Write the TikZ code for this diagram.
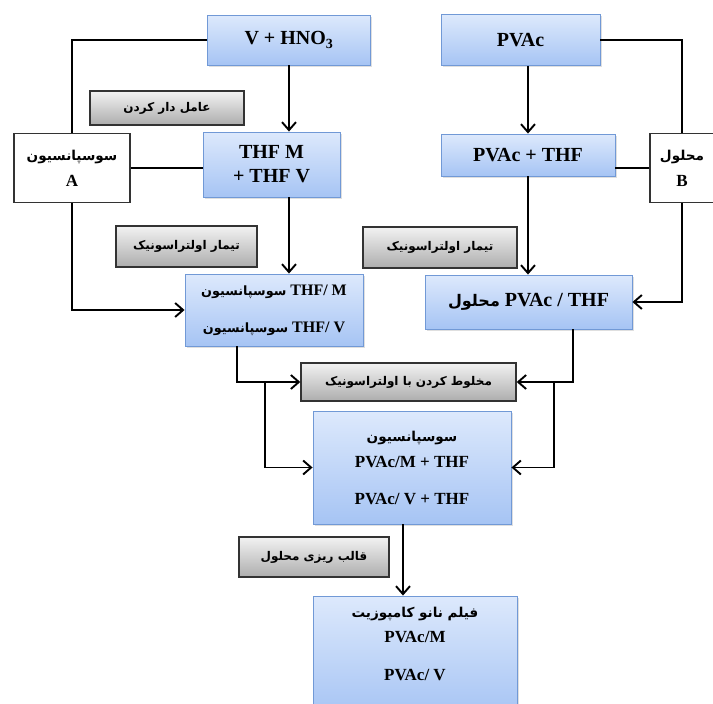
\documentclass[tikz,border=0pt]{standalone}
\usepackage{fontspec}
\setmainfont{Liberation Serif}
\newfontfamily\farsi[Script=Arabic,Scale=0.8]{DejaVu Sans}
\TeXXeTstate=1
\newcommand{\fatxt}[1]{{\farsi\bfseries\beginR #1\endR}}
\usetikzlibrary{arrows.meta,shadows}
\definecolor{bluetop}{HTML}{DDE9FC}
\definecolor{bluebot}{HTML}{A6C4F4}
\definecolor{blueline}{HTML}{7199D6}
\definecolor{graytop}{HTML}{F2F2F2}
\definecolor{graybot}{HTML}{ADADAD}

\begin{document}
\begin{tikzpicture}[x=1pt,y=-1pt,line width=1.9pt,
        >={Straight Barb[length=8pt,width=14pt]},
        blue box/.style={draw=blueline,line width=0.9pt,top color=bluetop,bottom color=bluebot,
            drop shadow={opacity=0.25,shadow xshift=1.5pt,shadow yshift=-1.5pt},
            align=center,inner sep=0pt,font=\fontsize{20}{24}\selectfont\bfseries},
        gray box/.style={draw=black!80,line width=1.4pt,top color=graytop,bottom color=graybot,
            inner sep=0pt,font=\fontsize{15}{17}\selectfont},
        white box/.style={draw=black!80,line width=1.1pt,fill=white,align=center,
            inner sep=0pt,font=\fontsize{17}{26}\selectfont\bfseries}]

    \useasboundingbox (0,0) rectangle (713,704);

    % top row
    \node[blue box, minimum width=163pt, minimum height=50pt] (vhno) at (289,40) {V + HNO\textsubscript{3}};
    \node[blue box, minimum width=159pt, minimum height=51pt] (pvac) at (520.5,40) {PVAc};

    % second row
    \node[white box, minimum width=116pt, minimum height=69pt] (susA) at (72,168) {\fatxt{سوسپانسیون}\\A};
    \node[blue box, minimum width=137pt, minimum height=65pt] (thfmv) at (271.5,164.5) {THF M\\+ THF V};
    \node[blue box, minimum width=174pt, minimum height=42pt] (pvacthf) at (528,155) {PVAc + THF};
    \node[white box, minimum width=64pt, minimum height=69pt] (solB) at (682,168) {\fatxt{محلول}\\B};

    % process steps
    \node[gray box, minimum width=154pt, minimum height=34pt] (func) at (167,108) {\fatxt{عامل دار کردن}};
    \node[gray box, minimum width=141pt, minimum height=41pt] (ultraA) at (186.5,246.5) {\fatxt{تیمار اولتراسونیک}};
    \node[gray box, minimum width=154pt, minimum height=41pt] (ultraB) at (440,247.5) {\fatxt{تیمار اولتراسونیک}};

    % third row
    \node[blue box, minimum width=178pt, minimum height=72pt, font=\fontsize{16}{19}\selectfont\bfseries] (suspM) at (274,310)
        {\fatxt{سوسپانسیون} THF/ M\\[18pt]\fatxt{سوسپانسیون} THF/ V};
    \node[blue box, minimum width=207pt, minimum height=54pt] (solPT) at (528.5,302) {\fatxt{محلول} PVAc / THF};

    \node[gray box, minimum width=215pt, minimum height=38pt] (mix) at (408.5,382) {\fatxt{مخلوط کردن با اولتراسونیک}};

    \node[blue box, minimum width=198pt, minimum height=113pt, font=\fontsize{17}{26}\selectfont\bfseries] (suspC) at (412,467.5)
        {\fatxt{سوسپانسیون}\\PVAc/M + THF\\[11pt]PVAc/ V + THF};

    \node[gray box, minimum width=150pt, minimum height=40pt] (cast) at (314,557) {\fatxt{قالب ریزی محلول}};

    \node[blue box, minimum width=204pt, minimum height=120pt, font=\fontsize{17}{25}\selectfont\bfseries] (film) at (415,656)
        {\fatxt{فیلم نانو کامپوزیت}\\PVAc/M\\[13pt]PVAc/ V\\\mbox{}};

    % connectors
    \draw (vhno.west) -| (susA.north);
    \draw[->] (susA.south) |- (suspM.west);
    \draw (susA.east) -- (susA.east -| thfmv.west);
    \draw (pvac.east) -| (solB.north);
    \draw[->] (solB.south) |- (solPT.east);
    \draw (solB.west) -- (solB.west -| pvacthf.east);

    \path[->]
    (vhno.south) edge (vhno.south |- thfmv.north)
    (vhno.south |- thfmv.south) edge (vhno.south |- suspM.north)
    (pvacthf.north |- pvac.south) edge (pvacthf.north)
    (pvacthf.south) edge (pvacthf.south |- solPT.north)
    ([xshift=-9pt]suspC.south) edge ([xshift=-9pt]suspC.south |- film.north);

    \draw[->] ([xshift=-37pt]suspM.south) |- (mix.west);
    \draw[->] ([xshift=-35pt]mix.west) |- (suspC.west);
    \draw[->] ([xshift=44.5pt]solPT.south) |- (mix.east);
    \draw[->] ([xshift=37pt]mix.east) |- (suspC.east);

\end{tikzpicture}
\end{document}
